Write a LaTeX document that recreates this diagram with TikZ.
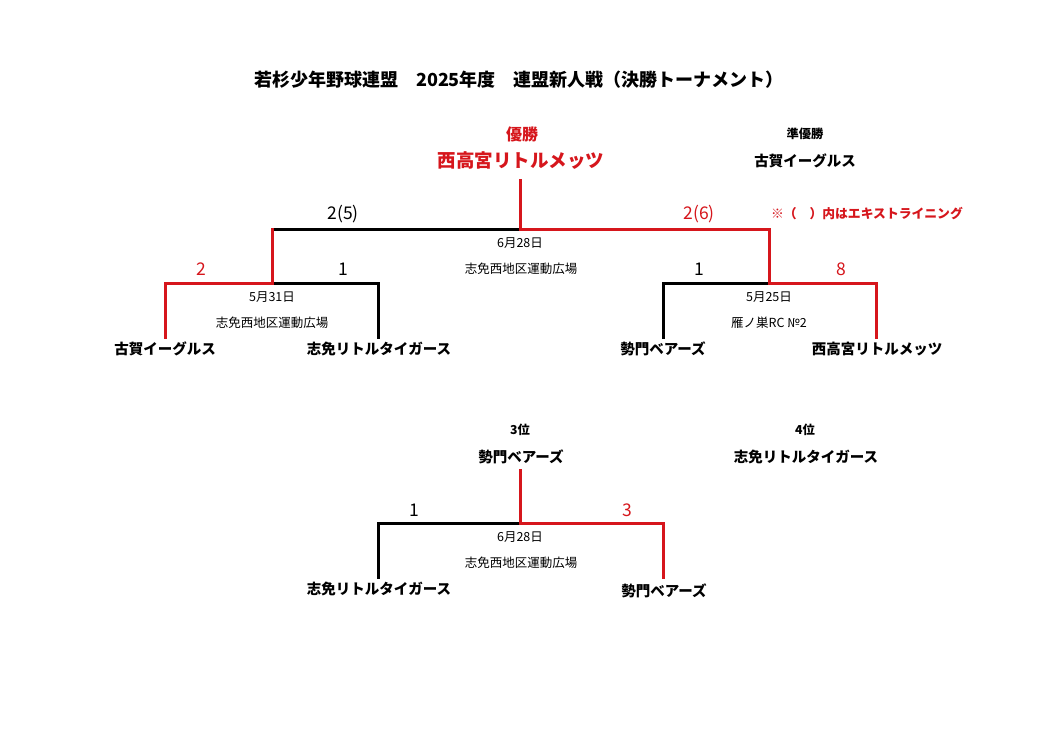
\documentclass[tikz,border=0pt]{standalone}
\usepackage{fontspec}
\setmainfont{Noto Sans CJK JP}
\definecolor{rosso}{RGB}{214,22,28}
\tikzset{
  squadra/.style={font=\fontsize{14.5}{16}\selectfont\bfseries, inner sep=0pt},
  piccolo/.style={font=\fontsize{12.5}{14}\selectfont, inner sep=0pt},
  etichetta/.style={font=\fontsize{12.3}{14}\selectfont\bfseries, inner sep=0pt},
  punti/.style={font=\fontsize{17.5}{19}\selectfont, inner sep=0pt},
  linea/.style={line width=3pt, line cap=rect},
  vinto/.style={linea, draw=rosso},
  perso/.style={linea, draw=black}
}
\begin{document}
\begin{tikzpicture}[x=1pt, y=-1pt]
    \useasboundingbox[fill=white] (0,0) rectangle (1053,744);

    % Titolo
    \node[font=\fontsize{18}{20}\selectfont\bfseries, inner sep=0pt] (titolo) at (519,80)
        {若杉少年野球連盟　2025年度　連盟新人戦（決勝トーナメント）};

    % Vincitori
    \node[etichetta, font=\fontsize{16}{18}\selectfont\bfseries, text=rosso] (yusho) at (522,134) {優勝};
    \node[squadra, font=\fontsize{18.5}{20}\selectfont\bfseries, text=rosso] (campione) at (521,161) {西高宮リトルメッツ};
    \node[etichetta] (junyusho) at (805,134) {準優勝};
    \node[squadra] (secondo) at (805,161) {古賀イーグルス};
    \node[etichetta, font=\fontsize{12.8}{14}\selectfont\bfseries, text=rosso] (nota) at (867,214)
        {※（　）内はエキストライニング};

    % Squadre
    \node[squadra] (koga) at (165,349) {古賀イーグルス};
    \node[squadra] (shime) at (379,349) {志免リトルタイガース};
    \node[squadra] (seimon) at (663,349) {勢門ベアーズ};
    \node[squadra] (nishi) at (877,349) {西高宮リトルメッツ};

    % Punti di giunzione
    \coordinate (f) at (520,180);
    \coordinate (fc) at (520,229);
    \coordinate (fl) at (272,229);
    \coordinate (fr) at (769,229);
    \coordinate (sl) at (272,283);
    \coordinate (sll) at (165,283);
    \coordinate (slr) at (378,283);
    \coordinate (sr) at (769,283);
    \coordinate (srl) at (663,283);
    \coordinate (srr) at (876,283);
    \coordinate (koga-t) at (165,337);
    \coordinate (shime-t) at (378,337);
    \coordinate (seimon-t) at (663,337);
    \coordinate (nishi-t) at (876,337);

    % Tabellone
    \draw[perso] (fl) -- (fc);
    \draw[perso] (sl) -- (slr) -- (shime-t);
    \draw[perso] (sr) -- (srl) -- (seimon-t);
    \draw[vinto] (f) -- (fc) -- (fr) -- (sr) -- (srr) -- (nishi-t);
    \draw[vinto] (fl) -- (sl) -- (sll) -- (koga-t);

    % Punteggi
    \node[punti] (p1) at (343,214) {2(5)};
    \node[punti, text=rosso] (p2) at (699,214) {2(6)};
    \node[punti, text=rosso] (p3) at (201,269) {2};
    \node[punti] (p4) at (343,269) {1};
    \node[punti] (p5) at (699,269) {1};
    \node[punti, text=rosso] (p6) at (841,269) {8};

    % Date e campi
    \node[piccolo] (d1) at (520,243) {6月28日};
    \node[piccolo] (c1) at (521,269) {志免西地区運動広場};
    \node[piccolo] (d2) at (272,297) {5月31日};
    \node[piccolo] (c2) at (272,323) {志免西地区運動広場};
    \node[piccolo] (d3) at (769,297) {5月25日};
    \node[piccolo] (c3) at (769,323) {雁ノ巣RC №2};

    % Terzo posto
    \node[etichetta] (terzo-t) at (520,430) {3位};
    \node[squadra] (terzo) at (521,457) {勢門ベアーズ};
    \node[etichetta] (quarto-t) at (805,430) {4位};
    \node[squadra] (quarto) at (806,457) {志免リトルタイガース};

    \node[squadra] (shime2) at (379,589) {志免リトルタイガース};
    \node[squadra] (seimon2) at (664,591) {勢門ベアーズ};

    \coordinate (t) at (520,470);
    \coordinate (tc) at (520,523);
    \coordinate (tl) at (378,523);
    \coordinate (tr) at (663,523);
    \coordinate (shime2-t) at (378,577);
    \coordinate (seimon2-t) at (663,577);

    \draw[perso] (tc) -- (tl) -- (shime2-t);
    \draw[vinto] (t) -- (tc) -- (tr) -- (seimon2-t);

    \node[punti] (p7) at (414,510) {1};
    \node[punti, text=rosso] (p8) at (627,510) {3};
    \node[piccolo] (d4) at (520,537) {6月28日};
    \node[piccolo] (c4) at (521,563) {志免西地区運動広場};

\end{tikzpicture}
\end{document}
